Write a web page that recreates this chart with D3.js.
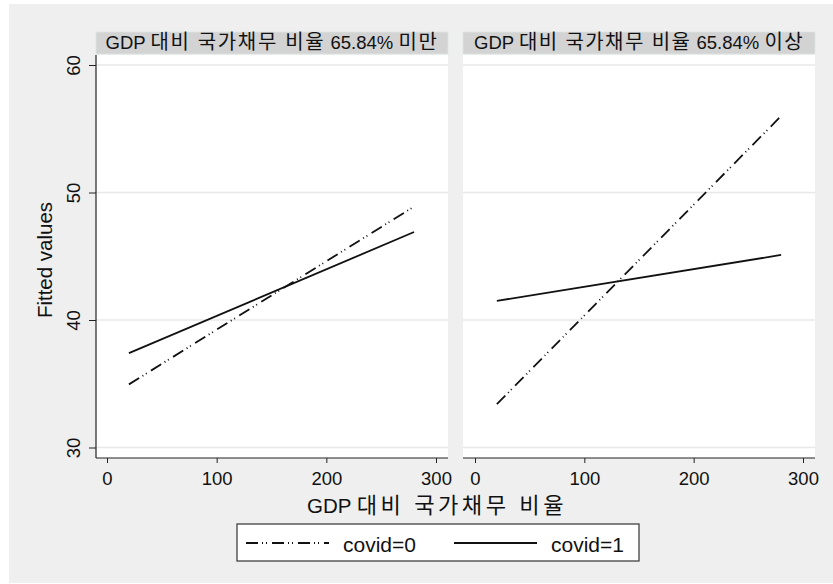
<!DOCTYPE html>
<html>
<head>
<meta charset="utf-8">
<script src="https://cdn.jsdelivr.net/npm/d3@7"></script>
<style>
  body { margin: 0; background: #fff; }
  svg { display: block; font-family: "Liberation Sans", Arial, "Noto Sans CJK KR", sans-serif; }
</style>
</head>
<body>
<svg id="chart" width="833" height="584"></svg>
<script>
"use strict";

// panels and fitted line end points (x = GDP 대비 국가채무 비율)
let panelTitles = ["GDP 대비 국가채무 비율 65.84% 미만", "GDP 대비 국가채무 비율 65.84% 이상"];
let xEnds = [20, 280];
let covid0 = [[34.95, 48.9], [33.4, 56.0]];
let covid1 = [[37.4, 46.9], [41.5, 45.1]];
let seriesNames = ["covid=0", "covid=1"];
let xTicks = [0, 100, 200, 300];
let yTicks = [30, 40, 50, 60];

let svg = d3.select("#chart");
let dashDot = "12,4,1,3,1,5";
let numFont = "Liberation Sans, Arial, sans-serif";

// the reference hangul is widely spaced: enlarge the hangul runs a little and spread them to the measured width
function koText(sel, str, size, target){
  let parts = str.split(/([\uAC00-\uD7A3][\uAC00-\uD7A3 ]*[\uAC00-\uD7A3]|[\uAC00-\uD7A3])/).filter(s => s);
  parts.forEach(function(s){
    let isKo = /[\uAC00-\uD7A3]/.test(s);
    sel.append("tspan").classed("ko", isKo).attr("font-size", isKo ? size * 1.08 : size).text(s);
  });
  let w = sel.node().getComputedTextLength();
  let ko = sel.selectAll("tspan.ko");
  let n = d3.sum(ko.nodes(), t => t.textContent.length);
  ko.attr("letter-spacing", Math.max(0, (target - w) / n));
}

svg.append("rect").attr("x", 9).attr("y", 4).attr("width", 824).attr("height", 579).attr("fill", "#efefef");

let y = d3.scaleLinear().domain([30, 60]).range([447.5, 65]);
let plotTop = 55, plotBottom = 458;
let panels = [
  {left: 96, right: 448, x0: 107, x1: 436, titleW: 333},
  {left: 463, right: 815, x0: 475, x1: 803, titleW: 330}
];

panels.forEach(function(p, i){
  let x = d3.scaleLinear().domain([0, 300]).range([p.x0, p.x1]);
  let g = svg.append("g");

  // header strip
  g.append("rect").attr("x", p.left).attr("y", 32).attr("width", p.right - p.left).attr("height", 22)
    .attr("fill", "#d3d3d3").attr("stroke", "#dce8e6").attr("stroke-width", 0.8);
  g.append("text").attr("x", (p.left + p.right) / 2).attr("y", 49).attr("text-anchor", "middle")
    .attr("fill", "#111")
    .call(koText, panelTitles[i], 18.5, p.titleW);

  // plot area
  g.append("rect").attr("x", p.left).attr("y", plotTop).attr("width", p.right - p.left).attr("height", plotBottom - plotTop)
    .attr("fill", "#fff");

  // gridlines
  g.selectAll("line.grid").data(yTicks).enter().append("line")
    .attr("x1", p.left).attr("x2", p.right)
    .attr("y1", d => y(d)).attr("y2", d => y(d))
    .attr("stroke", "#e8e8e8").attr("stroke-width", 1.5);

  // x axis
  let xAxis = d3.axisBottom(x).tickValues(xTicks).tickSize(5).tickPadding(9).tickFormat(d3.format("d"));
  let xg = g.append("g").attr("transform", "translate(0," + plotBottom + ")").call(xAxis);
  xg.select(".domain").remove();
  xg.append("line").attr("x1", p.left).attr("x2", p.right).attr("stroke", "#222").attr("stroke-width", 1.2);
  xg.selectAll(".tick line").attr("stroke", "#222");
  xg.selectAll(".tick text").attr("font-size", 18.5).attr("fill", "#111").attr("font-family", numFont);

  if(i === 0){
    let yAxis = d3.axisLeft(y).tickValues(yTicks).tickSize(7).tickPadding(0).tickFormat(d3.format("d"));
    let yg = g.append("g").attr("transform", "translate(" + p.left + ",0)").call(yAxis);
    yg.select(".domain").remove();
    yg.append("line").attr("y1", plotTop).attr("y2", plotBottom).attr("stroke", "#222").attr("stroke-width", 1.2);
    yg.selectAll(".tick line").attr("stroke", "#222");
    yg.selectAll(".tick text")
      .attr("x", 0).attr("dy", null).attr("text-anchor", "middle")
      .attr("transform", "translate(-16,0) rotate(-90)")
      .attr("font-size", 18.5).attr("fill", "#111").attr("font-family", numFont);
  }

  let line = d3.line().x(d => x(d[0])).y(d => y(d[1]));
  g.append("path").datum(xEnds.map((v, k) => [v, covid0[i][k]]))
    .attr("d", line).attr("fill", "none").attr("stroke", "#111").attr("stroke-width", 1.8)
    .attr("stroke-dasharray", dashDot);
  g.append("path").datum(xEnds.map((v, k) => [v, covid1[i][k]]))
    .attr("d", line).attr("fill", "none").attr("stroke", "#111").attr("stroke-width", 1.8);
});

// axis titles
svg.append("text").attr("transform", "translate(52,260) rotate(-90)").attr("text-anchor", "middle")
  .attr("font-size", 20.5).attr("fill", "#111").text("Fitted values");
svg.append("text").attr("x", 437).attr("y", 513).attr("text-anchor", "middle")
  .attr("fill", "#111")
  .call(koText, "GDP 대비 국가채무 비율", 20.5, 260);

// legend
let legend = svg.append("g");
legend.append("rect").attr("x", 237).attr("y", 524).attr("width", 402).attr("height", 37)
  .attr("fill", "#fff").attr("stroke", "#333").attr("stroke-width", 1.2);
let legendItems = [
  {name: seriesNames[0], x1: 246, x2: 329, tx: 343, dash: dashDot},
  {name: seriesNames[1], x1: 454, x2: 537, tx: 551, dash: null}
];
legendItems.forEach(function(d){
  legend.append("line").attr("x1", d.x1).attr("x2", d.x2).attr("y1", 543).attr("y2", 543)
    .attr("stroke", "#111").attr("stroke-width", 1.8).attr("stroke-dasharray", d.dash);
  legend.append("text").attr("x", d.tx).attr("y", 552).attr("font-size", 21).attr("fill", "#111").text(d.name);
});
</script>
</body>
</html>
